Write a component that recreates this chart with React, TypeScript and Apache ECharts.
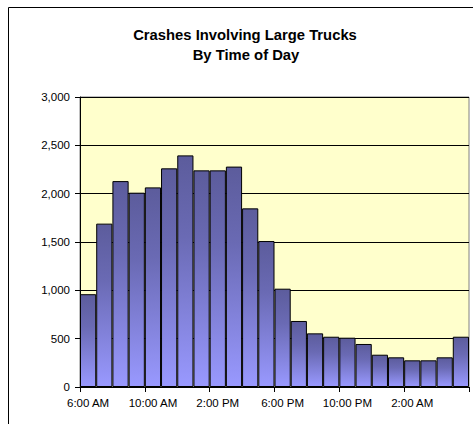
import React, { useEffect, useRef } from "react";
import * as echarts from "echarts";

const titleLines = ["Crashes Involving Large Trucks", "By Time of Day"];
const hours = [
  "6:00 AM", "7:00 AM", "8:00 AM", "9:00 AM", "10:00 AM", "11:00 AM",
  "12:00 PM", "1:00 PM", "2:00 PM", "3:00 PM", "4:00 PM", "5:00 PM",
  "6:00 PM", "7:00 PM", "8:00 PM", "9:00 PM", "10:00 PM", "11:00 PM",
  "12:00 AM", "1:00 AM", "2:00 AM", "3:00 AM", "4:00 AM", "5:00 AM",
];
// hourly crash counts, starting at 6:00 AM
const crashes = [960, 1690, 2130, 2010, 2065, 2262, 2396, 2241, 2241, 2280, 1848, 1510, 1017, 683, 555, 520, 510, 445, 334, 307, 276, 276, 307, 520];
const yMax = 3000;
const yStep = 500;

export default function App() {
  const ref = useRef<HTMLDivElement>(null);
  useEffect(() => {
    document.body.style.margin = "0";
    const chart = echarts.init(ref.current!, null, { renderer: "svg" });
    const font = "Liberation Sans, Arial, sans-serif";
    chart.setOption({
      animation: false,
      backgroundColor: "#ffffff",
      graphic: [
        {
          type: "rect",
          shape: { x: 8.5, y: 7.5, width: 600, height: 600 },
          style: { fill: "none", stroke: "#000", lineWidth: 1 },
          silent: true,
        },
        {
          type: "text",
          x: 245,
          y: 35,
          style: {
            text: titleLines[0],
            font: `bold 14.8px ${font}`,
            fill: "#000",
            textAlign: "center",
            textVerticalAlign: "middle",
          },
        },
        {
          type: "text",
          x: 246,
          y: 55,
          style: {
            text: titleLines[1],
            font: `bold 14.8px ${font}`,
            fill: "#000",
            textAlign: "center",
            textVerticalAlign: "middle",
          },
        },
      ],
      grid: {
        left: 80,
        top: 97,
        right: 4,
        bottom: 37,
        show: true,
        backgroundColor: "#ffffcc",
        borderColor: "#808080",
        borderWidth: 1,
      },
      xAxis: {
        type: "category",
        data: hours,
        boundaryGap: true,
        splitLine: { show: false },
        axisLine: { show: true, lineStyle: { color: "#000", width: 1 } },
        axisTick: { show: true, inside: false, length: 5, interval: 3, alignWithLabel: false, lineStyle: { color: "#000" } },
        axisLabel: {
          interval: 3,
          margin: 10,
          fontSize: 11.5,
          color: "#000",
          fontFamily: font,
        },
      },
      yAxis: {
        type: "value",
        min: 0,
        max: yMax,
        interval: yStep,
        axisLine: { show: true, lineStyle: { color: "#000", width: 1 } },
        axisTick: { show: true, inside: false, length: 5, lineStyle: { color: "#000" } },
        splitLine: { show: true, lineStyle: { color: "#000", width: 1 } },
        axisLabel: {
          margin: 10,
          fontSize: 11.5,
          color: "#000",
          fontFamily: font,
          formatter: (v: number) => v.toLocaleString("en-US"),
        },
      },
      series: [
        {
          type: "bar",
          data: crashes,
          barCategoryGap: "0%",
          itemStyle: {
            borderColor: "#000",
            borderWidth: 1,
            color: new echarts.graphic.LinearGradient(0, 0, 0, 1, [
              { offset: 0, color: "#5c5c9c" },
              { offset: 0.35, color: "#6a6ab4" },
              { offset: 1, color: "#9999ff" },
            ]),
          },
        },
      ],
    });
    return () => chart.dispose();
  }, []);
  return <div ref={ref} style={{ width: 473, height: 424 }} />;
}
